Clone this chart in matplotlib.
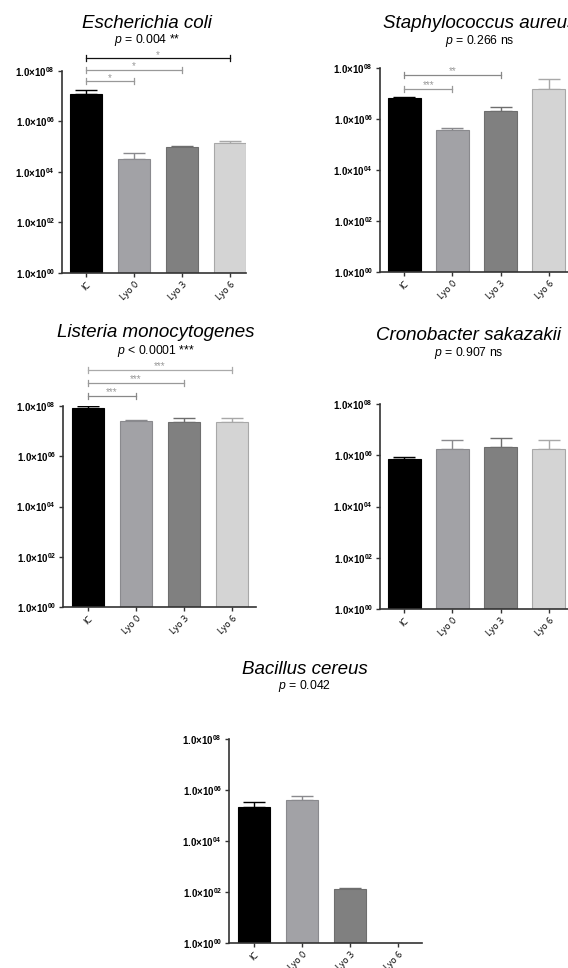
import numpy as np
import matplotlib
matplotlib.use("Agg")
import matplotlib.pyplot as plt
from matplotlib.ticker import FixedLocator, FuncFormatter, NullLocator

plt.rcParams["font.family"] = ["Liberation Sans", "DejaVu Sans"]
plt.rcParams["mathtext.fontset"] = "custom"
plt.rcParams["mathtext.rm"] = "Liberation Sans"
plt.rcParams["mathtext.it"] = "Liberation Sans:italic"
plt.rcParams["mathtext.bf"] = "Liberation Sans:bold"
plt.rcParams["mathtext.default"] = "regular"

groups = ["IC", "Lyo 0", "Lyo 3", "Lyo 6"]

# CFU means and upper SD
ecoli_mean = [1.2e7, 3.4e4, 9.5e4, 1.45e5]
ecoli_sd = [6e6, 2.1e4, 1e4, 2e4]
saureus_mean = [6.9e6, 3.8e5, 2.1e6, 1.55e7]
saureus_sd = [7e5, 7e4, 9e5, 2.0e7]
listeria_mean = [8.3e7, 2.5e7, 2.35e7, 2.35e7]
listeria_sd = [1.5e7, 2e6, 1e7, 1e7]
crono_mean = [6.9e5, 1.8e6, 2.1e6, 1.8e6]
crono_sd = [1.8e5, 2.3e6, 2.6e6, 2.3e6]
bacillus_mean = [2.1e5, 4.2e5, 135, 0]
bacillus_sd = [1.4e5, 1.4e5, 13, 0]

titles = ["Escherichia coli", "Staphylococcus aureus", "Listeria monocytogenes",
          "Cronobacter sakazakii", "Bacillus cereus"]
pvalues = ["= 0.004 **", "= 0.266 ns", "< 0.0001 ***", "= 0.907 ns", "= 0.042"]

# significance brackets: (from, to, label)
ecoli_sig = [(0, 3, "*"), (0, 2, "*"), (0, 1, "*")]
saureus_sig = [(0, 2, "**"), (0, 1, "***")]
listeria_sig = [(0, 3, "***"), (0, 2, "***"), (0, 1, "***")]

fill = ["#000000", "#a2a2a6", "#808080", "#d4d4d4"]
edge = ["#000000", "#8a8a8e", "#6e6e6e", "#a8a8a8"]

W, H = 568, 968
fig = plt.figure(figsize=(W / 100, H / 100), dpi=100)


def box(l, r, t, b):
    return [l / W, 1 - b / H, (r - l) / W, (b - t) / H]


def fmt(v, pos):
    e = int(round(np.log10(v)))
    return "1.0×10$^{%02d}$" % e


def panel(rect, xlim, means, sds, title, pval, tpos, sig=None, sig_y=None, sig_col=None):
    ax = fig.add_axes(box(*rect))
    x = np.arange(len(groups))
    m = np.array(means, dtype=float)
    s = np.array(sds, dtype=float)
    ok = m > 0
    ax.bar(x[ok], m[ok], width=0.68, color=[fill[i] for i in x[ok]],
           edgecolor=[edge[i] for i in x[ok]], linewidth=0.8, zorder=2)
    for i in x[ok]:
        ax.errorbar(i, m[i], yerr=[[0], [s[i]]], fmt="none", ecolor=edge[i],
                    elinewidth=1.0, capsize=8, capthick=1.0, zorder=1)
    ax.set_yscale("log")
    ax.set_ylim(1, 1e8)
    ax.set_xlim(*xlim)
    ax.yaxis.set_major_locator(FixedLocator([1, 1e2, 1e4, 1e6, 1e8]))
    ax.yaxis.set_minor_locator(NullLocator())
    ax.yaxis.set_major_formatter(FuncFormatter(fmt))
    ax.set_xticks(x)
    ax.set_xticklabels(groups, rotation=45, ha="right", rotation_mode="anchor",
                       fontsize=6.5, family=["Open Sans", "DejaVu Sans"])
    for lab in ax.get_yticklabels():
        lab.set_fontsize(7)
        lab.set_fontweight("bold")
    ax.tick_params(axis="both", length=3, width=1.0, color="#333333", pad=2)
    for sp in ["top", "right"]:
        ax.spines[sp].set_visible(False)
    for sp in ["left", "bottom"]:
        ax.spines[sp].set_linewidth(1.2)
        ax.spines[sp].set_color("#333333")

    tx, ty, py = tpos
    fig.text(tx / W, 1 - ty / H, title, ha="center", va="center", style="italic", fontsize=13.5)
    fig.text(tx / W, 1 - py / H, r"$\mathit{p}$ " + pval, ha="center", va="center", fontsize=8.8)

    if sig:
        for (a, b, lab), yv, c in zip(sig, sig_y, sig_col):
            ax.plot([a, b], [yv, yv], color=c, lw=0.9, clip_on=False)
            for xe in (a, b):
                ax.plot([xe, xe], [yv / 10 ** 0.12, yv * 10 ** 0.12], color=c, lw=0.9, clip_on=False)
            ax.text((a + b) / 2, yv / 10 ** 0.05, lab, ha="center", va="bottom",
                    fontsize=7, color="#999999", clip_on=False)
    return ax


panel((62, 246, 71, 273), (-0.5, 3.33), ecoli_mean, ecoli_sd, titles[0], pvalues[0],
      (147, 24, 40), ecoli_sig, [10 ** 8.5, 10 ** 8.03, 10 ** 7.59],
      ["#111111", "#999999", "#999999"])
panel((380, 573, 68, 272), (-0.5, 3.5), saureus_mean, saureus_sd, titles[1], pvalues[1],
      (480, 23, 41), saureus_sig, [10 ** 7.72, 10 ** 7.19], ["#888888", "#999999"])
panel((63, 256, 406, 607), (-0.52, 3.5), listeria_mean, listeria_sd, titles[2], pvalues[2],
      (156, 332, 351), listeria_sig, [10 ** 9.43, 10 ** 8.92, 10 ** 8.39],
      ["#aaaaaa", "#999999", "#888888"])
panel((380, 573, 404, 609), (-0.5, 3.5), crono_mean, crono_sd, titles[3], pvalues[3],
      (469, 335, 353))
panel((229, 422, 739, 943), (-0.52, 3.5), bacillus_mean, bacillus_sd, titles[4], pvalues[4],
      (305, 669, 686))

fig.savefig("out.png", dpi=100)
